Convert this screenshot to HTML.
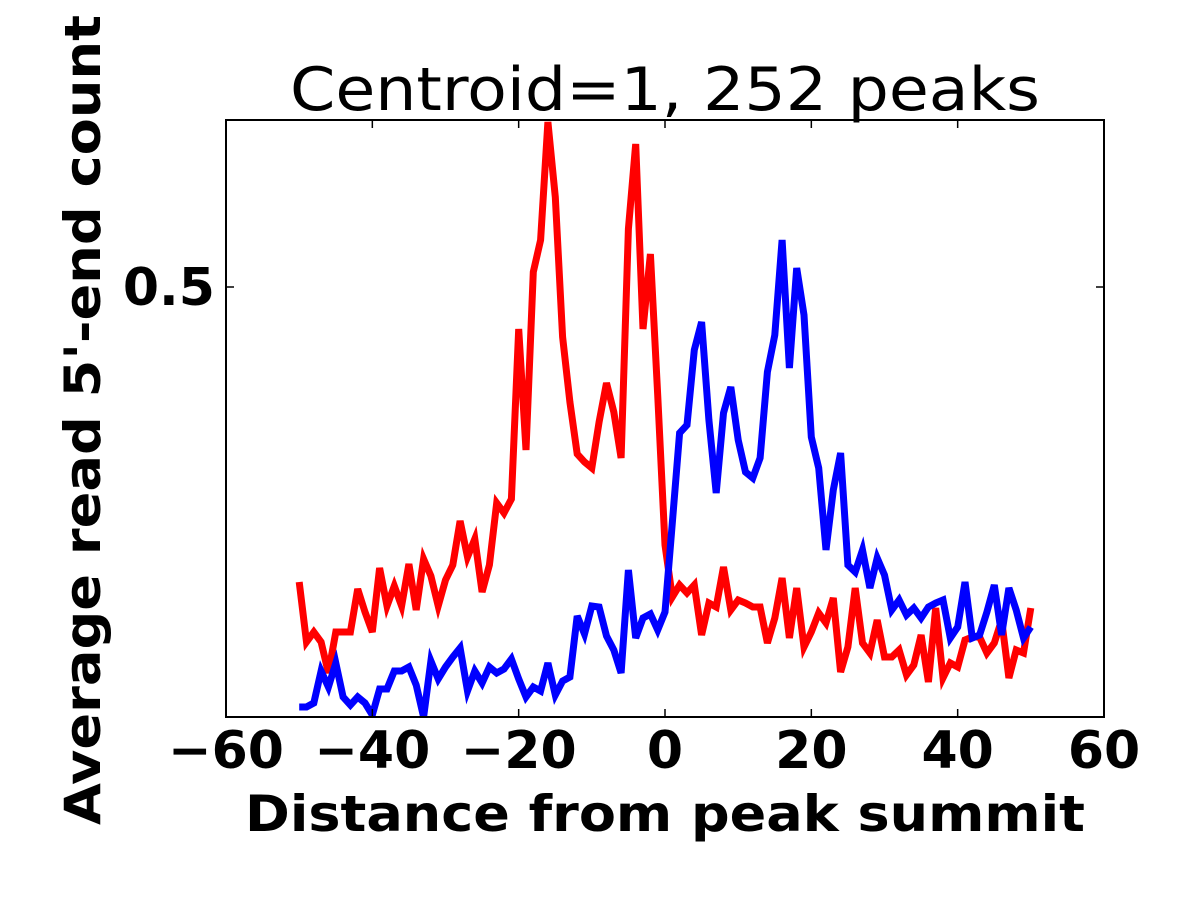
<!DOCTYPE html>
<html><head><meta charset="utf-8"><style>html,body{margin:0;padding:0;background:#fff;}svg{display:block;}</style></head>
<body>
<svg id="chart" width="1200" height="900" xmlns="http://www.w3.org/2000/svg" font-family="'DejaVu Sans','Liberation Sans',sans-serif">
<rect width="1200" height="900" fill="#fff"/>
<text x="665" y="110" font-size="60" text-anchor="middle" textLength="750" lengthAdjust="spacingAndGlyphs">Centroid=1, 252 peaks</text>
<g id="plot"></g>
<rect x="226" y="120" width="878" height="597" fill="none" stroke="#000" stroke-width="2"/>
<text x="665" y="831" font-size="50" font-weight="bold" text-anchor="middle" textLength="840" lengthAdjust="spacingAndGlyphs">Distance from peak summit</text>
<text transform="translate(100,420) rotate(-90)" font-size="50" font-weight="bold" text-anchor="middle" textLength="810" lengthAdjust="spacingAndGlyphs">Average read 5'-end count</text>
</svg>
<script>
const xTicks = [-60, -40, -20, 0, 20, 40, 60];
const xTickLabels = ["\u221260", "\u221240", "\u221220", "0", "20", "40", "60"];
const yTicks = [0.5];
const yTickLabels = ["0.5"];
const positions = [];
for (let i = -50; i <= 50; i++) positions.push(i);
const redSeries = [
0.3525,0.3225,0.3275,0.3225,0.307,0.3275,0.3275,0.3275,0.349,0.3375,0.3275,
0.3595,0.3405,0.3505,0.3405,0.3615,0.3385,0.364,0.3555,0.3405,0.3535,
0.361,0.383,0.365,0.374,0.3475,0.361,0.392,0.387,0.394,0.479,
0.4185,0.5075,0.5235,0.5825,0.545,0.475,0.4425,0.4165,0.4125,0.4095,
0.4325,0.452,0.4375,0.4145,0.529,0.5715,0.479,0.5165,0.446,0.371,
0.345,0.351,0.347,0.351,0.326,0.342,0.34,0.36,0.3385,
0.3435,0.342,0.34,0.34,0.322,0.3345,0.3545,0.3245,0.3495,0.32,
0.3275,0.337,0.332,0.3445,0.3075,0.32,0.3495,0.322,0.317,0.3335,
0.315,0.315,0.3185,0.306,0.311,0.326,0.3025,0.3395,0.3045,0.312,
0.31,0.3235,0.325,0.325,0.317,0.322,0.3335,0.3045,0.3185,0.317,
0.3395];
const blueSeries = [
0.29,0.29,0.292,0.308,0.3,0.312,0.295,0.291,0.295,0.292,
0.286,0.299,0.299,0.308,0.308,0.31,0.301,0.285,0.313,0.304,
0.31,0.315,0.3195,0.298,0.308,0.302,0.31,0.307,0.309,0.314,
0.304,0.295,0.3,0.298,0.312,0.296,0.303,0.305,0.3355,0.3265,
0.3405,0.34,0.3255,0.3185,0.307,0.3585,0.3245,0.3345,0.3365,0.3285,
0.3375,0.382,0.427,0.431,0.4685,0.4825,0.4335,0.397,0.437,0.45,
0.4235,0.4075,0.4045,0.4145,0.4575,0.476,0.5235,0.4595,0.5095,0.486,
0.425,0.4095,0.3685,0.3985,0.417,0.361,0.3575,0.3685,0.3495,0.3645,
0.356,0.3385,0.3435,0.336,0.3395,0.3345,0.34,0.342,0.3435,0.3245,
0.33,0.3525,0.3245,0.326,0.3375,0.351,0.326,0.3495,0.3385,0.3245,
0.33];

const X0 = 226, X1 = 1104, Y0 = 717, Y1 = 120;
const xMin = -60, xMax = 60, yMin = 0.285, yMax = 0.5835;
function sx(v) { return X0 + (v - xMin) / (xMax - xMin) * (X1 - X0); }
function sy(v) { return Y0 - (v - yMin) / (yMax - yMin) * (Y0 - Y1); }
const NS = "http://www.w3.org/2000/svg";
const plot = document.getElementById('plot');
const svg = document.getElementById('chart');

const clip = document.createElementNS(NS, 'clipPath');
clip.setAttribute('id', 'pc');
const cr = document.createElementNS(NS, 'rect');
cr.setAttribute('x', X0); cr.setAttribute('y', Y1 - 3); cr.setAttribute('width', X1 - X0); cr.setAttribute('height', Y0 - Y1 + 3);
clip.appendChild(cr);
svg.insertBefore(clip, svg.firstChild);

function drawLine(vals, color, name) {
  const p = document.createElementNS(NS, 'polyline');
  p.setAttribute('points', vals.map((v, i) => sx(positions[i]).toFixed(1) + ',' + sy(v).toFixed(1)).join(' '));
  p.setAttribute('fill', 'none');
  p.setAttribute('stroke', color);
  p.setAttribute('stroke-width', '7');
  p.setAttribute('stroke-linejoin', 'miter');
  p.setAttribute('clip-path', 'url(#pc)');
  
  
  plot.appendChild(p);
}
drawLine(redSeries, '#ff0000', 'red-series-line');
drawLine(blueSeries, '#0000ff', 'blue-series-line');

xTicks.forEach((t, i) => {
  const x = sx(t);
  [[Y0, Y0 - 8], [Y1, Y1 + 8]].forEach(([a, b]) => {
    const l = document.createElementNS(NS, 'line');
    l.setAttribute('x1', x); l.setAttribute('x2', x); l.setAttribute('y1', a); l.setAttribute('y2', b);
    l.setAttribute('stroke', '#000'); l.setAttribute('stroke-width', '1.5');
    
    
    plot.appendChild(l);
  });
  const tx = document.createElementNS(NS, 'text');
  tx.setAttribute('x', x); tx.setAttribute('y', 768);
  tx.setAttribute('font-size', '52'); tx.setAttribute('font-weight', 'bold');
  tx.setAttribute('text-anchor', 'middle');
  tx.textContent = xTickLabels[i];
  
  
  plot.appendChild(tx);
});
yTicks.forEach((t, i) => {
  const y = sy(t);
  [[X0, X0 + 8], [X1, X1 - 8]].forEach(([a, b]) => {
    const l = document.createElementNS(NS, 'line');
    l.setAttribute('x1', a); l.setAttribute('x2', b); l.setAttribute('y1', y); l.setAttribute('y2', y);
    l.setAttribute('stroke', '#000'); l.setAttribute('stroke-width', '1.5');
    
    
    plot.appendChild(l);
  });
  const tx = document.createElementNS(NS, 'text');
  tx.setAttribute('x', 215); tx.setAttribute('y', y + 18);
  tx.setAttribute('font-size', '52'); tx.setAttribute('font-weight', 'bold');
  tx.setAttribute('text-anchor', 'end');
  tx.textContent = yTickLabels[i];
  
  
  plot.appendChild(tx);
});
</script>
</body></html>
